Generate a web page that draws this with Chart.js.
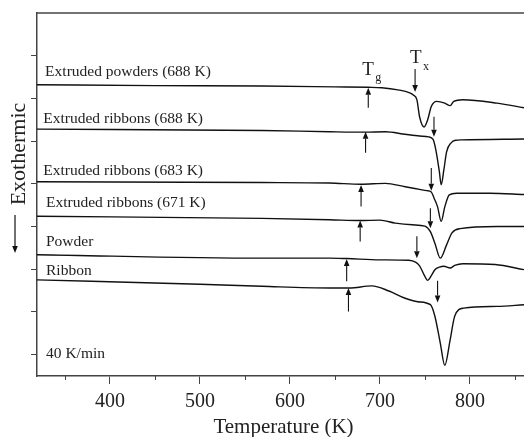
<!DOCTYPE html>
<html lang="en">
<head>
  <meta charset="UTF-8" />
  <title>DSC curves</title>
  <script src="https://cdn.jsdelivr.net/npm/chart.js"></script>
  <style>
    html, body { margin: 0; padding: 0; background: #fff; }
    #wrap { width: 524px; height: 437px; }
  </style>
</head>
<body>
  <div id="wrap"><canvas id="dsc" width="524" height="437"></canvas></div>

  <script>
    // DSC traces, temperature (K) and heat flow (arb. units, exothermic down)
    const seriesNames = ['Extruded powders (688 K)', 'Extruded ribbons (688 K)', 'Extruded ribbons (683 K)',
                         'Extruded ribbons (671 K)', 'Powder', 'Ribbon'];

    const extPowders688T = [319, 450, 569, 650, 687, 702, 720, 733, 737, 741, 744, 749, 753, 757, 763, 772, 778, 782, 792, 830, 860];
    const extPowders688Y = [6.32, 6.30, 6.29, 6.27, 6.26, 6.25, 6.20, 6.13, 6.08, 5.97, 5.57, 5.33, 5.50, 5.81, 5.93, 5.89, 5.83, 5.93, 5.97, 5.89, 5.78];

    const extRibbons688T = [319, 569, 644, 683, 706, 728, 744, 754, 759, 762, 766, 768, 771, 774, 779, 784, 791, 860];
    const extRibbons688Y = [5.28, 5.25, 5.22, 5.21, 5.22, 5.16, 5.12, 5.10, 5.04, 4.80, 4.28, 3.98, 4.33, 4.75, 4.96, 5.02, 5.03, 5.05];

    const extRibbons683T = [319, 569, 644, 679, 706, 728, 744, 752, 757, 760, 764, 768, 772, 777, 785, 822, 860];
    const extRibbons683Y = [4.05, 4.03, 4.02, 3.99, 4.01, 3.93, 3.87, 3.84, 3.81, 3.67, 3.46, 3.12, 3.46, 3.74, 3.78, 3.78, 3.75];

    const extRibbons671T = [319, 569, 644, 678, 700, 717, 736, 750, 756, 761, 767, 774, 780, 789, 830, 860];
    const extRibbons671Y = [3.24, 3.19, 3.16, 3.14, 3.15, 3.08, 3.04, 3.01, 2.88, 2.61, 2.26, 2.57, 2.85, 2.95, 3.00, 3.00];

    const powderT = [319, 569, 644, 663, 700, 732, 740, 744, 749, 753, 757, 761, 766, 771, 778, 783, 792, 828, 860];
    const powderY = [2.34, 2.26, 2.26, 2.25, 2.22, 2.21, 2.16, 2.08, 1.87, 1.74, 1.85, 1.99, 2.05, 2.07, 2.03, 2.09, 2.13, 2.11, 1.99];

    const ribbonT = [319, 500, 569, 644, 666, 691, 710, 728, 742, 756, 761, 767, 772, 778, 783, 793, 830, 860];
    const ribbonY = [1.75, 1.65, 1.60, 1.56, 1.56, 1.61, 1.49, 1.32, 1.24, 1.17, 0.90, 0.27, -0.25, 0.35, 0.90, 1.09, 1.13, 1.17];

    // Tg arrows (pointing up) and Tx arrows (pointing down), one per trace
    const tgT = [687, 684, 679, 678, 663, 665];
    const tgTip = [6.25, 5.22, 3.97, 3.14, 2.24, 1.56];
    const tgTail = [5.78, 4.73, 3.47, 2.65, 1.72, 1.01];
    const txT = [739, 760, 757, 756, 741, 764];
    const txTip = [6.15, 5.10, 3.84, 2.96, 2.26, 1.22];
    const txTail = [6.69, 5.57, 4.37, 3.43, 2.77, 1.73];

    // where each trace name sits (left end of text, baseline)
    const labelT = [328, 326, 326, 329, 329, 329];
    const labelY = [6.53, 5.43, 4.21, 3.46, 2.55, 1.87];
    const rateText = '40 K/min';
    const rateAt = [329, -0.09];

    const xTicksMajor = [400, 500, 600, 700, 800];
    const xTicksMinor = [350, 450, 550, 650, 750, 850];

    const SERIF = "'Liberation Serif', 'DejaVu Serif', serif";
    const INK = '#111';

    const traces = [
      [extPowders688T, extPowders688Y], [extRibbons688T, extRibbons688Y], [extRibbons683T, extRibbons683Y],
      [extRibbons671T, extRibbons671Y], [powderT, powderY], [ribbonT, ribbonY]
    ];
    const datasets = traces.map(([ts, ys], i) => ({
      label: seriesNames[i],
      data: ts.map((t, k) => ({ x: t, y: ys[k] })),
      borderColor: INK,
      borderWidth: 1.4,
      pointRadius: 0,
      fill: false,
      cubicInterpolationMode: 'monotone'
    }));

    function arrow(ctx, x, yTail, yTip) {
      const dir = yTip > yTail ? 1 : -1;
      const head = 7;
      ctx.beginPath();
      ctx.moveTo(x, yTail);
      ctx.lineTo(x, yTip - dir * head);
      ctx.stroke();
      ctx.beginPath();
      ctx.moveTo(x, yTip);
      ctx.lineTo(x - 2.8, yTip - dir * head);
      ctx.lineTo(x + 2.8, yTip - dir * head);
      ctx.closePath();
      ctx.fill();
    }

    const decorations = {
      id: 'decorations',
      afterDraw(chart) {
        const { ctx, chartArea: a, scales: { x, y } } = chart;
        ctx.save();
        ctx.strokeStyle = '#444';
        ctx.lineWidth = 1.5;
        // top frame line
        ctx.beginPath();
        ctx.moveTo(a.left, a.top);
        ctx.lineTo(a.right, a.top);
        ctx.stroke();
        // minor ticks on x
        ctx.lineWidth = 1;
        xTicksMinor.forEach(t => {
          const px = Math.round(x.getPixelForValue(t)) + 0.5;
          ctx.beginPath();
          ctx.moveTo(px, a.bottom);
          ctx.lineTo(px, a.bottom + 4);
          ctx.stroke();
        });

        // Tg / Tx arrows
        ctx.strokeStyle = INK;
        ctx.fillStyle = INK;
        ctx.lineWidth = 1.1;
        tgT.forEach((t, i) => arrow(ctx, x.getPixelForValue(t), y.getPixelForValue(tgTail[i]), y.getPixelForValue(tgTip[i])));
        txT.forEach((t, i) => arrow(ctx, x.getPixelForValue(t), y.getPixelForValue(txTail[i]), y.getPixelForValue(txTip[i])));

        // trace names
        ctx.fillStyle = '#222';
        ctx.textBaseline = 'alphabetic';
        ctx.textAlign = 'left';
        ctx.font = '15.5px ' + SERIF;
        seriesNames.forEach((n, i) => ctx.fillText(n, x.getPixelForValue(labelT[i]), y.getPixelForValue(labelY[i])));
        ctx.fillText(rateText, x.getPixelForValue(rateAt[0]), y.getPixelForValue(rateAt[1]));

        // T_g and T_x markers
        const gx = x.getPixelForValue(tgT[0]) - 6, gy = y.getPixelForValue(tgTip[0]) - 13;
        ctx.font = '19px ' + SERIF;
        ctx.fillText('T', gx, gy);
        ctx.font = '12px ' + SERIF;
        ctx.fillText('g', gx + 13, gy + 6);
        const xx = x.getPixelForValue(txT[0]) - 5, xy = y.getPixelForValue(txTail[0]) - 6;
        ctx.font = '19px ' + SERIF;
        ctx.fillText('T', xx, xy);
        ctx.font = '12px ' + SERIF;
        ctx.fillText('x', xx + 13, xy + 7);

        // axis titles
        ctx.font = '21px ' + SERIF;
        ctx.textAlign = 'center';
        ctx.fillText('Temperature (K)', (a.left + a.right) / 2 + 3, chart.height - 4);
        ctx.save();
        ctx.translate(a.left - 12, a.top + 141);
        ctx.rotate(-Math.PI / 2);
        ctx.font = '22px ' + SERIF;
        ctx.fillText('Exothermic', 0, 0);
        ctx.restore();
        ctx.strokeStyle = INK;
        ctx.fillStyle = INK;
        ctx.lineWidth = 1.2;
        arrow(ctx, a.left - 22, a.top + 202, a.top + 240);
        ctx.restore();
      }
    };

    new Chart(document.getElementById('dsc').getContext('2d'), {
      type: 'line',
      data: { datasets },
      plugins: [decorations],
      options: {
        responsive: false,
        animation: false,
        layout: { padding: { top: 13, right: 0, left: 0, bottom: 0 } },
        plugins: { legend: { display: false }, tooltip: { enabled: false } },
        scales: {
          x: {
            type: 'linear',
            min: 319,
            max: 860,
            afterFit: s => { s.height = 61; },
            afterBuildTicks: s => { s.ticks = xTicksMajor.map(v => ({ value: v })); },
            border: { display: true, color: '#444', width: 1.5 },
            grid: { drawOnChartArea: false, tickLength: 8, tickColor: '#444' },
            ticks: { font: { family: SERIF, size: 20 }, color: '#222', padding: 6, maxRotation: 0 }
          },
          y: {
            min: -0.5,
            max: 8,
            afterFit: s => { s.width = 37; },
            border: { display: true, color: '#444', width: 1.5 },
            grid: {
              drawOnChartArea: false,
              tickLength: 6,
              tickColor: c => (c.tick && c.tick.value === 8 ? 'rgba(0,0,0,0)' : '#444')
            },
            ticks: { stepSize: 1, includeBounds: false, display: false }
          }
        }
      }
    });
  </script>
</body>
</html>
